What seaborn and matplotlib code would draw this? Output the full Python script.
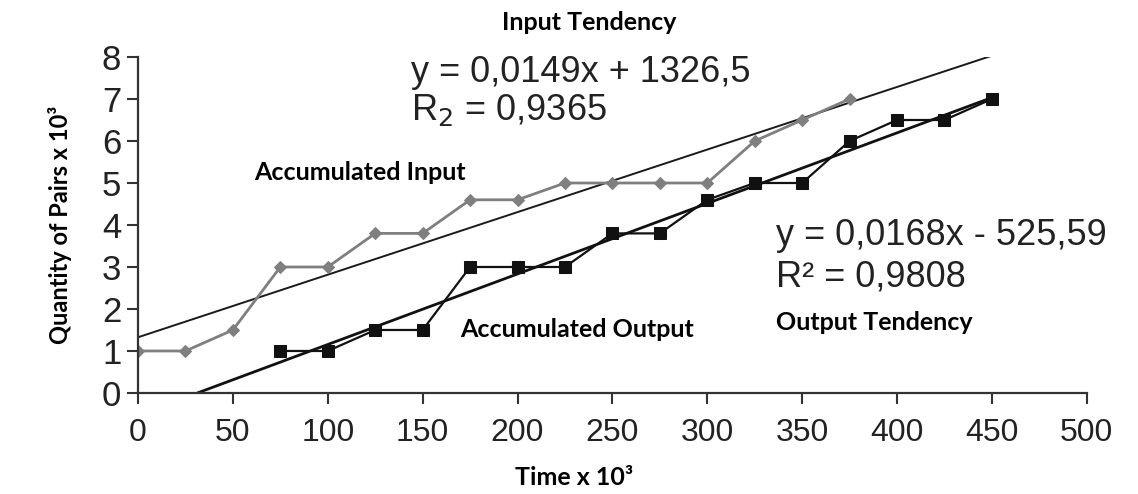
import numpy as np
import pandas as pd
import seaborn as sns
import matplotlib.pyplot as plt

# accumulated input (grey diamonds), values in thousands
input_time = [0, 25, 50, 75, 100, 125, 150, 175, 200, 225, 250, 275, 300, 325, 350, 375]
input_pairs = [1, 1, 1.5, 3, 3, 3.8, 3.8, 4.6, 4.6, 5, 5, 5, 5, 6, 6.5, 7]

# accumulated output (black squares)
output_time = [75, 100, 125, 150, 175, 200, 225, 250, 275, 300, 325, 350, 375, 400, 425, 450]
output_pairs = [1, 1, 1.5, 1.5, 3, 3, 3, 3.8, 3.8, 4.6, 5, 5, 6, 6.5, 6.5, 7]

# trend lines as printed on the chart (raw units, y = a*x + b)
input_slope, input_intercept = 0.0149, 1326.5
output_slope, output_intercept = 0.0168, -525.59
trend_end = 450

x_ticks = [0, 50, 100, 150, 200, 250, 300, 350, 400, 450, 500]
y_ticks = [0, 1, 2, 3, 4, 5, 6, 7, 8]

sns.set_style("ticks")
plt.rcParams['font.family'] = ['Liberation Sans', 'DejaVu Sans']

fig = plt.figure(figsize=(11.38, 4.94), dpi=100)
ax = fig.add_axes([0.1213, 0.2045, 0.955 - 0.1213, 0.8846 - 0.2045])

# trend lines (x in thousands -> y in thousands)
in_x = np.array([0, trend_end])
in_y = input_slope * in_x + input_intercept / 1000
out_x = np.array([-output_intercept / 1000 / output_slope, trend_end])
out_y = output_slope * out_x + output_intercept / 1000
sns.lineplot(x=in_x, y=in_y, color='#1a1a1a', lw=1.4, ax=ax)
sns.lineplot(x=out_x, y=out_y, color='#111111', lw=2.0, ax=ax)

df_in = pd.DataFrame({'time': input_time, 'pairs': input_pairs})
df_out = pd.DataFrame({'time': output_time, 'pairs': output_pairs})
sns.lineplot(data=df_in, x='time', y='pairs', color='#7f7f7f', marker='D',
             markersize=6.5, markeredgecolor='#7f7f7f', lw=2.0, ax=ax)
sns.lineplot(data=df_out, x='time', y='pairs', color='#111111', marker='s',
             markersize=9, markeredgecolor='#111111', lw=1.6, ax=ax)

ax.set_xlim(0, 500)
ax.set_ylim(0, 8)
ax.set_xticks(x_ticks)
ax.set_yticks(y_ticks)
ax.tick_params(axis='both', length=8, width=1.5, color='#333333', labelcolor='#222222')
ax.tick_params(axis='x', labelsize=23, pad=10)
ax.tick_params(axis='y', labelsize=25, pad=4)
for side in ['left', 'bottom']:
    ax.spines[side].set_linewidth(1.6)
    ax.spines[side].set_color('#333333')
sns.despine(ax=ax)

bold = dict(family=['Lato', 'DejaVu Sans'], fontweight='bold', fontsize=18, color='black')
ax.set_xlabel('')
ax.set_ylabel('Quantity of Pairs x 10³', **{**bold, 'fontsize': 17})
ax.yaxis.set_label_coords(-0.07, 0.5)
ax.text(230, -2.02, 'Time x 10³', ha='center', va='center', clip_on=False, **bold)
ax.text(238, 8.83, 'Input Tendency', ha='center', va='center', clip_on=False, **bold)
ax.text(61, 5.26, 'Accumulated Input', ha='left', va='center', **bold)
ax.text(170, 1.5, 'Accumulated Output', ha='left', va='center', **bold)
ax.text(336, 1.69, 'Output Tendency', ha='left', va='center', **bold)

eq = dict(fontsize=26, color='#222222', va='center', ha='left', clip_on=False)
ax.text(144, 7.64, 'y = 0,0149x + 1326,5', **eq)
ax.text(144, 6.74, 'R$_2$ = 0,9365', **eq)
ax.text(336, 3.76, 'y = 0,0168x - 525,59', **eq)
ax.text(336, 2.76, 'R² = 0,9808', **eq)

fig.savefig('out.png', dpi=100)
plt.close(fig)
